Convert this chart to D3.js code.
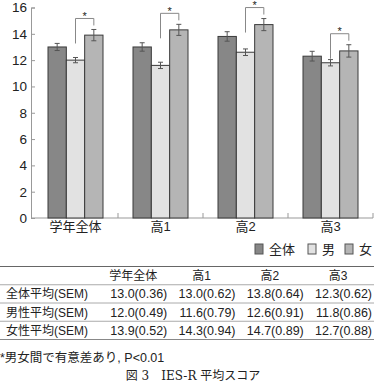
<!DOCTYPE html>
<html>
<head>
<meta charset="utf-8">
<script src="https://cdn.jsdelivr.net/npm/d3@7"></script>
<style>
  body { margin: 0; background: #fff; }
  text { font-family: "Liberation Sans", "Noto Sans CJK JP", sans-serif; fill: #222; }
  .cap { font-family: "DejaVu Serif", "Noto Sans CJK JP", serif; }
</style>
</head>
<body>
<div id="chart"></div>
<script>
var groups = ["学年全体", "高1", "高2", "高3"];
var series = ["全体", "男", "女"];
var rowLabels = ["全体平均(SEM)", "男性平均(SEM)", "女性平均(SEM)"];

var meanAll = [13.0, 13.0, 13.8, 12.3];
var meanMale = [12.0, 11.6, 12.6, 11.8];
var meanFemale = [13.9, 14.3, 14.7, 12.7];

var semAll = [0.36, 0.62, 0.64, 0.62];
var semMale = [0.49, 0.79, 0.91, 0.86];
var semFemale = [0.52, 0.94, 0.89, 0.88];

// error bar half lengths as drawn in the figure
var errAll = [0.27, 0.32, 0.36, 0.37];
var errMale = [0.20, 0.24, 0.25, 0.24];
var errFemale = [0.43, 0.42, 0.46, 0.47];

var yTicks = [0, 2, 4, 6, 8, 10, 12, 14, 16];
var colors = ["#878787", "#e2e2e2", "#b5b5b5"];

var W = 374, H = 388;
var svg = d3.select("#chart").append("svg")
    .attr("width", W)
    .attr("height", H);

var x = d3.scaleBand().domain(groups).range([33, 373]);
var xs = d3.scaleBand().domain(series).range([0, 55]);
var y = d3.scaleLinear().domain([0, 16]).range([218, 7.5]);

var means = [meanAll, meanMale, meanFemale];
var errs = [errAll, errMale, errFemale];

// y axis
var yAxis = svg.append("g")
    .attr("transform", "translate(31,0)")
    .call(d3.axisRight(y).tickValues(yTicks).tickSize(4).tickFormat(d3.format("d")));
yAxis.select(".domain").attr("stroke", "#999");
yAxis.selectAll(".tick line").attr("stroke", "#999");
yAxis.selectAll(".tick text")
    .attr("x", -4)
    .attr("text-anchor", "end")
    .style("font-size", "13.5px")
    .style("fill", "#222");

// x axis
svg.append("line")
    .attr("x1", 31).attr("x2", 373)
    .attr("y1", y(0)).attr("y2", y(0))
    .attr("stroke", "#999");
groups.forEach(function (g) {
  var xe = x(g) + x.bandwidth();
  svg.append("line")
    .attr("x1", xe).attr("x2", xe)
    .attr("y1", y(0)).attr("y2", y(0) - 5)
    .attr("stroke", "#999");
  svg.append("text")
    .attr("x", x(g) + x.bandwidth() / 2)
    .attr("y", 231)
    .attr("text-anchor", "middle")
    .style("font-size", "13px")
    .text(g);
});

// bars
groups.forEach(function (g, i) {
  var x0 = x(g) + (x.bandwidth() - 55) / 2;
  series.forEach(function (s, j) {
    var v = means[j][i];
    svg.append("rect")
      .attr("x", x0 + xs(s))
      .attr("y", y(v))
      .attr("width", xs.bandwidth())
      .attr("height", y(0) - y(v))
      .attr("fill", colors[j])
      .attr("stroke", "#3a3a3a")
      .attr("stroke-width", 1);
  });
  series.forEach(function (s, j) {
    var v = means[j][i], e = errs[j][i];
    var cx = x0 + xs(s) + xs.bandwidth() / 2;
    var g2 = svg.append("g").attr("stroke", "#555").attr("stroke-width", 1);
    g2.append("line").attr("x1", cx).attr("x2", cx).attr("y1", y(v + e)).attr("y2", y(v - e));
    g2.append("line").attr("x1", cx - 2.5).attr("x2", cx + 2.5).attr("y1", y(v + e)).attr("y2", y(v + e));
    g2.append("line").attr("x1", cx - 2.5).attr("x2", cx + 2.5).attr("y1", y(v - e)).attr("y2", y(v - e));
  });

  // significance bracket between male and female
  var xm = x0 + xs("男") + xs.bandwidth() / 2;
  var xf = x0 + xs("女") + xs.bandwidth() / 2;
  var top = y(meanFemale[i] + errFemale[i]) - 11;
  svg.append("path")
    .attr("d", "M" + xm + "," + (top + 25) + "V" + top + "H" + xf + "V" + (top + 7))
    .attr("fill", "none")
    .attr("stroke", "#888");
  svg.append("text")
    .attr("x", (xm + xf) / 2)
    .attr("y", top + 1.5)
    .attr("text-anchor", "middle")
    .style("font-size", "11px")
    .text("*");
});

// legend
var lx = [255, 308, 345];
series.forEach(function (s, j) {
  svg.append("rect")
    .attr("x", lx[j]).attr("y", 244)
    .attr("width", 8).attr("height", 10)
    .attr("fill", colors[j])
    .attr("stroke", "#555");
  svg.append("text")
    .attr("x", lx[j] + 14).attr("y", 253.5)
    .style("font-size", "13px")
    .text(s);
});

// table
var colX = d3.scaleBand().domain(groups).range([99, 372]);
var rowY = d3.scaleBand().domain(["head"].concat(rowLabels)).range([266.5, 339.5]);
var sems = [semAll, semMale, semFemale];

svg.append("line").attr("x1", 0).attr("x2", W).attr("y1", 266.5).attr("y2", 266.5)
    .attr("stroke", "#666");
rowLabels.forEach(function (r) {
  svg.append("line").attr("x1", 0).attr("x2", W)
    .attr("y1", rowY(r)).attr("y2", rowY(r))
    .attr("stroke", "#aaa");
});
svg.append("line").attr("x1", 0).attr("x2", W).attr("y1", 339.5).attr("y2", 339.5)
    .attr("stroke", "#888");

groups.forEach(function (g) {
  svg.append("text")
    .attr("x", colX(g) + colX.bandwidth() - 34)
    .attr("y", rowY("head") + rowY.bandwidth() / 2 + 4.5)
    .attr("text-anchor", "middle")
    .style("font-size", "12px")
    .text(g);
});
rowLabels.forEach(function (r, k) {
  var yy = rowY(r) + rowY.bandwidth() / 2 + 4.5;
  svg.append("text")
    .attr("x", 6).attr("y", yy)
    .style("font-size", "12px")
    .text(r);
  groups.forEach(function (g, i) {
    svg.append("text")
      .attr("x", colX(g) + colX.bandwidth())
      .attr("y", yy)
      .attr("text-anchor", "end")
      .style("font-size", "12.5px")
      .text(means[k][i].toFixed(1) + "(" + sems[k][i].toFixed(2) + ")");
  });
});

svg.append("text")
    .attr("x", 0).attr("y", 361.5)
    .style("font-size", "12.5px")
    .text("*男女間で有意差あり, P<0.01");

svg.append("text")
    .attr("class", "cap")
    .attr("x", 193).attr("y", 380)
    .attr("text-anchor", "middle")
    .style("font-size", "12px")
    .text("図 3　IES-R 平均スコア");
</script>
</body>
</html>
